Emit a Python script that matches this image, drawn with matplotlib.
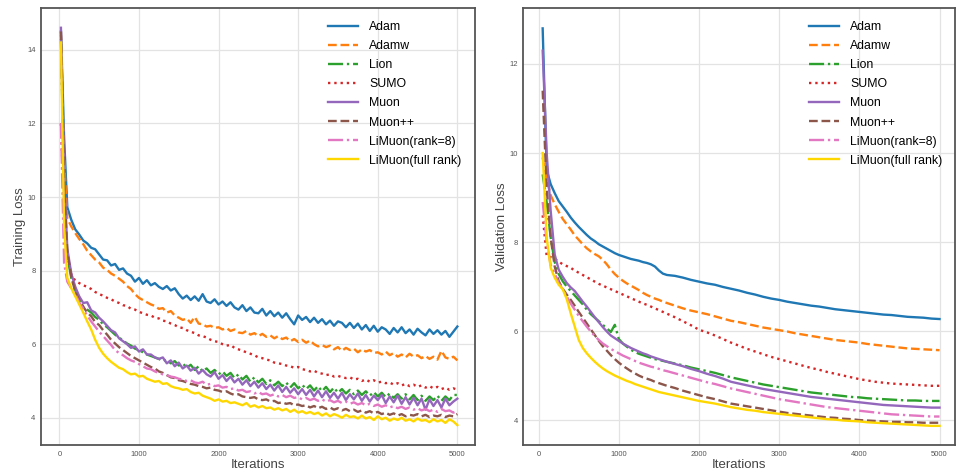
import matplotlib
matplotlib.use("Agg")
import matplotlib.pyplot as plt

# ── data ────────────────────────────────────────────────────────────────
labels = ["Adam", "Adamw", "Lion", "SUMO", "Muon", "Muon++",
          "LiMuon(rank=8)", "LiMuon(full rank)"]

# training loss, logged at 20, 60, then every 50 iterations
train_iters = [20, 60] + list(range(100, 5001, 50))

train_adam = [14.5, 11.6,
    9.72, 9.38, 9.12, 8.98, 8.82, 8.74, 8.62, 8.58, 8.44, 8.30, 8.28, 8.14, 8.18, 8.02, 8.06, 7.92, 7.86, 7.70,
    7.80, 7.64, 7.74, 7.60, 7.66, 7.56, 7.50, 7.58, 7.46, 7.52, 7.36, 7.24, 7.32, 7.20, 7.30, 7.18, 7.36, 7.16,
    7.12, 7.22, 7.08, 7.16, 7.04, 7.14, 7.00, 6.94, 7.06, 6.90, 7.00, 6.86, 6.84, 6.96, 6.78, 6.90, 6.76, 6.86,
    6.72, 6.84, 6.68, 6.54, 6.78, 6.66, 6.74, 6.60, 6.72, 6.58, 6.68, 6.54, 6.64, 6.50, 6.62, 6.58, 6.46, 6.58,
    6.44, 6.56, 6.40, 6.52, 6.36, 6.50, 6.34, 6.46, 6.40, 6.28, 6.44, 6.32, 6.46, 6.30, 6.40, 6.26, 6.42, 6.32,
    6.24, 6.40, 6.28, 6.38, 6.26, 6.36, 6.20, 6.34, 6.48]
train_adamw = [14.4, 11.0,
    9.42, 9.20, 9.02, 8.86, 8.72, 8.54, 8.42, 8.30, 8.22, 8.08, 8.02, 7.92, 7.86, 7.78, 7.70, 7.58, 7.50, 7.36,
    7.26, 7.20, 7.14, 7.08, 7.04, 6.96, 6.98, 6.86, 6.90, 6.78, 6.72, 6.66, 6.70, 6.58, 6.74, 6.56, 6.54, 6.48,
    6.50, 6.44, 6.46, 6.40, 6.44, 6.36, 6.40, 6.32, 6.30, 6.36, 6.26, 6.30, 6.22, 6.28, 6.20, 6.24, 6.16, 6.22,
    6.14, 6.18, 6.08, 6.14, 6.06, 6.12, 6.04, 6.10, 6.00, 5.94, 5.98, 5.92, 5.96, 5.86, 5.92, 5.82, 5.90, 5.84,
    5.88, 5.78, 5.86, 5.80, 5.84, 5.76, 5.78, 5.72, 5.80, 5.70, 5.76, 5.66, 5.72, 5.64, 5.74, 5.66, 5.70, 5.62,
    5.68, 5.60, 5.66, 5.58, 5.82, 5.64, 5.60, 5.66, 5.56]
train_lion = [14.3, 10.2,
    8.40, 7.80, 7.46, 7.20, 7.02, 6.94, 6.86, 6.74, 6.66, 6.54, 6.46, 6.36, 6.26, 6.18, 6.10, 6.02, 5.96, 5.88,
    5.84, 5.78, 5.72, 5.68, 5.64, 5.60, 5.54, 5.58, 5.48, 5.54, 5.42, 5.48, 5.36, 5.44, 5.30, 5.40, 5.26, 5.34,
    5.22, 5.30, 5.18, 5.26, 5.14, 5.22, 5.08, 5.18, 5.04, 5.14, 4.98, 5.10, 4.96, 5.06, 4.92, 5.02, 4.88, 4.98,
    4.86, 4.96, 4.82, 4.94, 4.80, 4.90, 4.78, 4.88, 4.74, 4.86, 4.72, 4.84, 4.70, 4.82, 4.68, 4.78, 4.66, 4.76,
    4.64, 4.74, 4.62, 4.72, 4.60, 4.70, 4.58, 4.68, 4.56, 4.66, 4.54, 4.64, 4.52, 4.64, 4.50, 4.62, 4.48, 4.60,
    4.46, 4.58, 4.48, 4.60, 4.46, 4.58, 4.48, 4.62, 4.62]
train_sumo = [12.0, 9.6,
    8.40, 7.90, 7.72, 7.66, 7.60, 7.56, 7.50, 7.42, 7.36, 7.32, 7.26, 7.22, 7.16, 7.12, 7.06, 7.04, 6.96, 6.94,
    6.88, 6.84, 6.80, 6.78, 6.72, 6.70, 6.64, 6.62, 6.56, 6.52, 6.46, 6.44, 6.38, 6.34, 6.30, 6.24, 6.22, 6.18,
    6.12, 6.08, 6.06, 6.00, 5.96, 5.98, 5.90, 5.86, 5.82, 5.78, 5.74, 5.70, 5.64, 5.62, 5.58, 5.56, 5.50, 5.48,
    5.46, 5.42, 5.40, 5.36, 5.38, 5.32, 5.30, 5.26, 5.28, 5.22, 5.20, 5.16, 5.18, 5.12, 5.14, 5.10, 5.08, 5.10,
    5.04, 5.06, 5.00, 5.04, 4.98, 5.02, 4.96, 4.98, 4.94, 4.96, 4.90, 4.94, 4.88, 4.92, 4.86, 4.90, 4.84, 4.88,
    4.82, 4.86, 4.80, 4.84, 4.78, 4.82, 4.76, 4.80, 4.76]
train_muon = [14.6, 10.6,
    8.60, 7.92, 7.56, 7.30, 7.12, 7.14, 6.92, 6.86, 6.72, 6.62, 6.50, 6.38, 6.32, 6.16, 6.08, 6.00, 5.90, 5.94,
    5.80, 5.86, 5.72, 5.72, 5.64, 5.60, 5.64, 5.48, 5.56, 5.40, 5.50, 5.34, 5.42, 5.28, 5.36, 5.20, 5.30, 5.18,
    5.12, 5.24, 5.06, 5.16, 5.00, 5.12, 4.96, 5.06, 4.90, 5.02, 4.86, 4.98, 4.82, 4.94, 4.78, 4.90, 4.74, 4.88,
    4.70, 4.84, 4.68, 4.80, 4.64, 4.78, 4.62, 4.76, 4.58, 4.74, 4.56, 4.72, 4.54, 4.68, 4.52, 4.68, 4.48, 4.64,
    4.50, 4.66, 4.46, 4.62, 4.44, 4.60, 4.48, 4.62, 4.40, 4.58, 4.42, 4.60, 4.38, 4.56, 4.36, 4.54, 4.34, 4.52,
    4.22, 4.50, 4.32, 4.48, 4.28, 4.52, 4.34, 4.44, 4.52]
train_muonpp = [14.5, 10.3,
    8.50, 7.84, 7.42, 7.20, 7.02, 6.86, 6.76, 6.60, 6.52, 6.38, 6.26, 6.12, 6.02, 5.92, 5.84, 5.76, 5.68, 5.62,
    5.56, 5.50, 5.44, 5.38, 5.34, 5.26, 5.22, 5.16, 5.10, 5.08, 5.02, 5.00, 4.96, 4.92, 4.90, 4.86, 4.84, 4.80,
    4.82, 4.76, 4.74, 4.70, 4.72, 4.66, 4.62, 4.64, 4.58, 4.56, 4.54, 4.56, 4.50, 4.48, 4.50, 4.44, 4.46, 4.40,
    4.42, 4.38, 4.40, 4.34, 4.36, 4.32, 4.34, 4.28, 4.32, 4.26, 4.30, 4.24, 4.28, 4.22, 4.26, 4.20, 4.24, 4.18,
    4.22, 4.16, 4.20, 4.14, 4.18, 4.12, 4.16, 4.10, 4.14, 4.08, 4.12, 4.06, 4.10, 4.04, 4.08, 4.06, 4.10, 4.04,
    4.08, 4.02, 4.06, 4.04, 4.08, 4.02, 4.06, 4.04, 4.10]
train_limuon8 = [12.0, 8.2,
    7.70, 7.52, 7.36, 7.14, 6.96, 6.78, 6.62, 6.48, 6.34, 6.22, 6.10, 5.98, 5.84, 5.76, 5.70, 5.62, 5.56, 5.52,
    5.46, 5.40, 5.34, 5.32, 5.26, 5.22, 5.18, 5.16, 5.12, 5.10, 5.06, 5.04, 5.00, 5.02, 4.96, 4.94, 4.98, 4.90,
    4.92, 4.86, 4.88, 4.82, 4.84, 4.78, 4.80, 4.74, 4.76, 4.70, 4.72, 4.66, 4.70, 4.64, 4.66, 4.60, 4.64, 4.58,
    4.62, 4.56, 4.60, 4.54, 4.56, 4.50, 4.54, 4.48, 4.52, 4.46, 4.50, 4.44, 4.48, 4.42, 4.46, 4.40, 4.44, 4.38,
    4.42, 4.36, 4.40, 4.34, 4.38, 4.32, 4.36, 4.30, 4.34, 4.28, 4.32, 4.26, 4.30, 4.24, 4.28, 4.22, 4.26, 4.20,
    4.24, 4.18, 4.22, 4.16, 4.24, 4.18, 4.20, 4.14, 4.18]
train_limuon_full = [14.2, 9.2,
    7.80, 7.52, 7.30, 7.08, 6.86, 6.62, 6.40, 6.12, 5.90, 5.74, 5.62, 5.52, 5.44, 5.36, 5.32, 5.24, 5.18, 5.20,
    5.12, 5.14, 5.06, 5.02, 4.98, 5.00, 4.92, 4.94, 4.86, 4.82, 4.80, 4.76, 4.78, 4.70, 4.66, 4.68, 4.60, 4.56,
    4.52, 4.46, 4.50, 4.44, 4.46, 4.40, 4.42, 4.38, 4.34, 4.40, 4.30, 4.34, 4.28, 4.32, 4.26, 4.28, 4.22, 4.26,
    4.20, 4.24, 4.16, 4.22, 4.14, 4.18, 4.12, 4.16, 4.10, 4.14, 4.06, 4.12, 4.04, 4.10, 4.06, 4.00, 4.08, 4.02,
    4.04, 3.98, 4.06, 3.98, 4.02, 3.94, 4.04, 3.96, 4.00, 3.92, 3.98, 3.94, 4.00, 3.92, 3.96, 3.90, 3.98, 3.92,
    3.94, 3.88, 3.96, 3.90, 3.94, 3.86, 3.96, 3.90, 3.80]

# validation loss, every 50 iterations up to 1550, then every 100
val_iters = list(range(50, 1600, 50)) + list(range(1600, 5001, 100))

val_adam = [12.80, 9.62, 9.30, 9.10, 8.92, 8.80, 8.68, 8.55, 8.44, 8.34, 8.25, 8.16, 8.08, 8.02, 7.95, 7.90,
    7.85, 7.80, 7.75, 7.71, 7.68, 7.65, 7.62, 7.60, 7.58, 7.55, 7.53, 7.50, 7.45, 7.36, 7.29,
    7.26, 7.24, 7.20, 7.15, 7.11, 7.07, 7.04, 6.99, 6.95, 6.91, 6.86, 6.82, 6.77, 6.73, 6.70, 6.66, 6.63, 6.60,
    6.57, 6.55, 6.52, 6.49, 6.47, 6.45, 6.43, 6.41, 6.39, 6.37, 6.36, 6.34, 6.32, 6.31, 6.30, 6.28, 6.27]
val_adamw = [9.90, 9.40, 9.05, 8.85, 8.68, 8.52, 8.40, 8.28, 8.15, 8.05, 7.95, 7.86, 7.79, 7.73, 7.68, 7.60,
    7.50, 7.38, 7.28, 7.20, 7.13, 7.07, 7.02, 6.97, 6.92, 6.86, 6.81, 6.77, 6.73, 6.70, 6.66,
    6.63, 6.57, 6.51, 6.46, 6.42, 6.38, 6.33, 6.28, 6.23, 6.20, 6.16, 6.12, 6.08, 6.05, 6.02, 5.99, 5.95, 5.92,
    5.89, 5.86, 5.83, 5.80, 5.78, 5.76, 5.74, 5.71, 5.69, 5.67, 5.65, 5.63, 5.61, 5.60, 5.59, 5.58, 5.57]
val_lion = [9.52, 8.90, 8.10, 7.55, 7.28, 7.12, 7.00, 6.90, 6.80, 6.70, 6.60, 6.48, 6.38, 6.30, 6.22, 6.14,
    6.06, 5.98, 6.14, 5.82, 5.72, 5.65, 5.58, 5.53, 5.49, 5.46, 5.43, 5.40, 5.37, 5.35, 5.33,
    5.31, 5.27, 5.23, 5.18, 5.14, 5.10, 5.06, 5.01, 4.96, 4.92, 4.88, 4.84, 4.80, 4.77, 4.74, 4.71, 4.68, 4.65,
    4.62, 4.60, 4.58, 4.56, 4.54, 4.52, 4.51, 4.49, 4.48, 4.47, 4.46, 4.45, 4.44, 4.44, 4.43, 4.43, 4.43]
val_sumo = [8.60, 7.68, 7.66, 7.62, 7.56, 7.50, 7.46, 7.42, 7.36, 7.31, 7.26, 7.21, 7.16, 7.11, 7.06, 7.02,
    6.98, 6.94, 6.90, 6.86, 6.82, 6.78, 6.74, 6.70, 6.66, 6.62, 6.59, 6.55, 6.51, 6.47, 6.43,
    6.39, 6.31, 6.22, 6.13, 6.03, 5.97, 5.90, 5.82, 5.74, 5.67, 5.60, 5.54, 5.48, 5.42, 5.37, 5.32, 5.27, 5.22,
    5.17, 5.13, 5.08, 5.04, 5.00, 4.96, 4.92, 4.89, 4.86, 4.84, 4.82, 4.81, 4.80, 4.79, 4.78, 4.77, 4.77]
val_muon = [12.30, 10.00, 8.70, 7.72, 7.38, 7.22, 7.08, 6.98, 6.90, 6.78, 6.66, 6.55, 6.43, 6.31, 6.20, 6.09,
    5.99, 5.90, 5.84, 5.78, 5.72, 5.67, 5.62, 5.58, 5.54, 5.50, 5.47, 5.43, 5.40, 5.37, 5.34,
    5.31, 5.26, 5.21, 5.15, 5.10, 5.04, 4.99, 4.93, 4.86, 4.82, 4.78, 4.74, 4.70, 4.67, 4.64, 4.61, 4.58, 4.55,
    4.52, 4.50, 4.48, 4.46, 4.44, 4.42, 4.40, 4.38, 4.36, 4.34, 4.33, 4.32, 4.31, 4.30, 4.29, 4.28, 4.28]
val_muonpp = [11.40, 9.20, 8.10, 7.45, 7.12, 6.95, 6.82, 6.70, 6.57, 6.43, 6.30, 6.17, 6.04, 5.91, 5.78, 5.66,
    5.56, 5.46, 5.37, 5.29, 5.22, 5.16, 5.10, 5.05, 5.00, 4.96, 4.93, 4.90, 4.86, 4.83, 4.80,
    4.77, 4.72, 4.66, 4.61, 4.56, 4.51, 4.47, 4.42, 4.37, 4.34, 4.31, 4.28, 4.25, 4.22, 4.19, 4.16, 4.14, 4.12,
    4.10, 4.08, 4.06, 4.05, 4.03, 4.02, 4.00, 3.99, 3.98, 3.97, 3.96, 3.96, 3.95, 3.95, 3.94, 3.94, 3.94]
val_limuon8 = [8.90, 8.00, 7.48, 7.30, 7.08, 6.94, 6.78, 6.62, 6.48, 6.34, 6.22, 6.10, 5.99, 5.89, 5.80, 5.72,
    5.66, 5.60, 5.55, 5.50, 5.45, 5.41, 5.37, 5.33, 5.29, 5.26, 5.23, 5.20, 5.18, 5.15, 5.12,
    5.10, 5.05, 5.00, 4.95, 4.90, 4.85, 4.81, 4.76, 4.71, 4.67, 4.63, 4.59, 4.55, 4.51, 4.47, 4.44, 4.41, 4.38,
    4.35, 4.32, 4.29, 4.27, 4.25, 4.23, 4.21, 4.19, 4.17, 4.15, 4.13, 4.12, 4.11, 4.10, 4.09, 4.08, 4.08]
val_limuon_full = [10.00, 8.10, 7.42, 7.20, 7.04, 6.94, 6.72, 6.40, 6.10, 5.80, 5.62, 5.50, 5.40, 5.31, 5.23, 5.16,
    5.10, 5.05, 5.00, 4.96, 4.92, 4.88, 4.85, 4.81, 4.78, 4.75, 4.72, 4.69, 4.66, 4.63, 4.61,
    4.59, 4.55, 4.51, 4.47, 4.43, 4.40, 4.37, 4.33, 4.29, 4.26, 4.23, 4.21, 4.18, 4.16, 4.14, 4.12, 4.10, 4.08,
    4.06, 4.04, 4.02, 4.01, 3.99, 3.98, 3.97, 3.95, 3.94, 3.93, 3.92, 3.91, 3.90, 3.89, 3.88, 3.87, 3.87]

train_series = [train_adam, train_adamw, train_lion, train_sumo,
                train_muon, train_muonpp, train_limuon8, train_limuon_full]
val_series = [val_adam, val_adamw, val_lion, val_sumo,
              val_muon, val_muonpp, val_limuon8, val_limuon_full]

# ── style ───────────────────────────────────────────────────────────────
colors = ["#1f77b4", "#ff7f0e", "#2ca02c", "#d62728",
          "#9467bd", "#8c564b", "#e377c2", "#ffd700"]
styles = ["-", "--", "-.", ":", "-", "--", "-.", "-"]

plt.rcParams["font.family"] = ["Liberation Sans", "DejaVu Sans"]

fig = plt.figure(figsize=(9.61, 4.71), dpi=100, facecolor="white")
ax1 = fig.add_axes([0.0427, 0.0552, 0.4516, 0.928])
ax2 = fig.add_axes([0.5445, 0.0552, 0.4495, 0.928])


def style_axis(ax, ylabel, xlim, ylim, yticks):
    ax.set_facecolor("white")
    ax.grid(True, color="#e3e3e3", linewidth=0.9)
    ax.set_axisbelow(True)
    for spine in ax.spines.values():
        spine.set_edgecolor("#555555")
        spine.set_linewidth(1.3)
    ax.tick_params(length=0, labelsize=5.5, labelcolor="#555555", pad=4)
    ax.set_xlim(*xlim)
    ax.set_ylim(*ylim)
    ax.set_xticks([0, 1000, 2000, 3000, 4000, 5000])
    ax.set_yticks(yticks)
    ax.set_xlabel("Iterations", fontsize=9.5, color="#444444", labelpad=1)
    ax.set_ylabel(ylabel, fontsize=9.5, color="#444444", labelpad=1)
    ax.legend(loc="upper left", bbox_to_anchor=(0.635, 0.995), frameon=False,
              fontsize=8.8, handlelength=2.5, handletextpad=0.9, labelspacing=0.58)


for ys, lab, c, ls in zip(train_series, labels, colors, styles):
    ax1.plot(train_iters, ys, color=c, linestyle=ls, linewidth=1.7, label=lab)
style_axis(ax1, "Training Loss", (-230, 5222), (3.26, 15.14), [4, 6, 8, 10, 12, 14])

for ys, lab, c, ls in zip(val_series, labels, colors, styles):
    ax2.plot(val_iters, ys, color=c, linestyle=ls, linewidth=1.7, label=lab)
style_axis(ax2, "Validation Loss", (-192, 5196), (3.44, 13.26), [4, 6, 8, 10, 12])

fig.savefig("out.png", dpi=100, facecolor="white")
